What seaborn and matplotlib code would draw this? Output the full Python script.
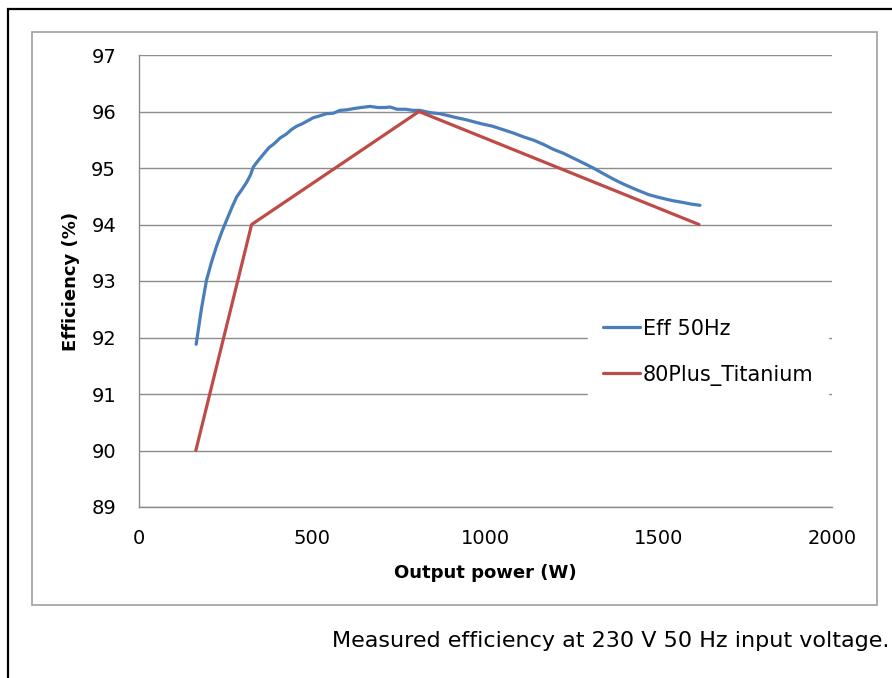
import matplotlib
matplotlib.use("Agg")
import matplotlib.pyplot as plt
import seaborn as sns
import pandas as pd
from matplotlib.patches import Rectangle

# ---- data ----
eff_power = [165, 180, 195, 210, 224, 239, 253, 268, 282, 297, 311, 322, 330, 345, 360,
             375, 390, 407, 425, 440, 455, 470, 485, 503, 520, 540, 561, 580, 600, 618,
             640, 667, 690, 710, 724, 745, 770, 790, 811, 840, 869, 890, 917, 940, 965,
             990, 1020, 1050, 1080, 1110, 1140, 1170, 1196, 1225, 1255, 1285, 1311, 1340,
             1370, 1400, 1430, 1446, 1470, 1500, 1520, 1542, 1570, 1595, 1619]
eff_values = [91.88, 92.5, 93.02, 93.35, 93.62, 93.87, 94.08, 94.3, 94.49, 94.62, 94.75,
              94.88, 95.02, 95.14, 95.25, 95.36, 95.43, 95.53, 95.6, 95.68, 95.74, 95.78,
              95.83, 95.89, 95.92, 95.96, 95.97, 96.02, 96.03, 96.05, 96.07, 96.09, 96.07,
              96.07, 96.08, 96.04, 96.04, 96.02, 96.02, 95.98, 95.96, 95.93, 95.89, 95.86,
              95.82, 95.78, 95.74, 95.68, 95.62, 95.55, 95.49, 95.41, 95.33, 95.26, 95.17,
              95.08, 95.0, 94.9, 94.8, 94.71, 94.63, 94.59, 94.53, 94.48, 94.45, 94.42,
              94.39, 94.36, 94.34]
titanium_power = [164, 325, 808, 1616]
titanium_values = [90, 94, 96, 94]
series_names = ["Eff 50Hz", "80Plus_Titanium"]
series_colors = ["#4A7EBB", "#BE4B48"]
x_ticks = [0, 500, 1000, 1500, 2000]
y_ticks = [89, 90, 91, 92, 93, 94, 95, 96, 97]
x_label = "Output power (W)"
y_label = "Efficiency (%)"
caption = "Measured efficiency at 230 V 50 Hz input voltage."

df = pd.concat([
    pd.DataFrame({"power": eff_power, "eff": eff_values, "series": series_names[0]}),
    pd.DataFrame({"power": titanium_power, "eff": titanium_values, "series": series_names[1]}),
])

sns.set_style("white")
plt.rcParams["font.family"] = ["DejaVu Sans"]
plt.rcParams["text.color"] = "black"
plt.rcParams["axes.labelcolor"] = "black"

W, H = 892, 678
fig = plt.figure(figsize=(W / 100, H / 100), dpi=100)

# outer black frame and inner gray chart frame
fig.add_artist(Rectangle((8 / W, -0.05), 1.1, 1 - 9 / H + 0.05, transform=fig.transFigure,
                         fill=False, edgecolor="black", linewidth=1.6))
fig.add_artist(Rectangle((32 / W, 1 - 605 / H), (877 - 32) / W, (605 - 32) / H,
                         transform=fig.transFigure, fill=False, edgecolor="#A0A0A0",
                         linewidth=1.2))

ax = fig.add_axes([139 / W, 1 - 507 / H, 693 / W, 452 / H])
sns.lineplot(data=df, x="power", y="eff", hue="series", palette=series_colors,
             linewidth=2.3, ax=ax, sort=False, legend=True)

ax.set_xlim(0, 2000)
ax.set_ylim(89, 97)
ax.set_xticks(x_ticks)
ax.set_yticks(y_ticks)
ax.grid(axis="y", color="#8C8C8C", linewidth=1.0)
ax.grid(axis="x", visible=False)
for s in ["top", "right"]:
    ax.spines[s].set_visible(False)
for s in ["left", "bottom"]:
    ax.spines[s].set_color("#8C8C8C")
    ax.spines[s].set_linewidth(1.0)
ax.tick_params(axis="both", direction="out", length=5.5, width=1.0, color="#8C8C8C",
               labelsize=14, labelcolor="black")
ax.tick_params(axis="y", pad=11)
ax.tick_params(axis="x", pad=10)
ax.set_xlabel(x_label, fontsize=13, fontweight="bold", labelpad=12)
ax.set_ylabel(y_label, fontsize=13, fontweight="bold", labelpad=8)

leg = ax.legend(title=None, loc="upper left", bbox_to_anchor=(0.648, 0.449),
                frameon=True, facecolor="white", edgecolor="white", framealpha=1,
                fontsize=15, handlelength=1.78, handletextpad=0.15, labelspacing=1.25,
                borderpad=0.7, borderaxespad=0, fancybox=False)
for line in leg.get_lines():
    line.set_linewidth(2.3)

fig.text(889 / W, 1 - 641 / H, caption, ha="right", va="center", fontsize=16)

fig.savefig("out.png", dpi=100)
